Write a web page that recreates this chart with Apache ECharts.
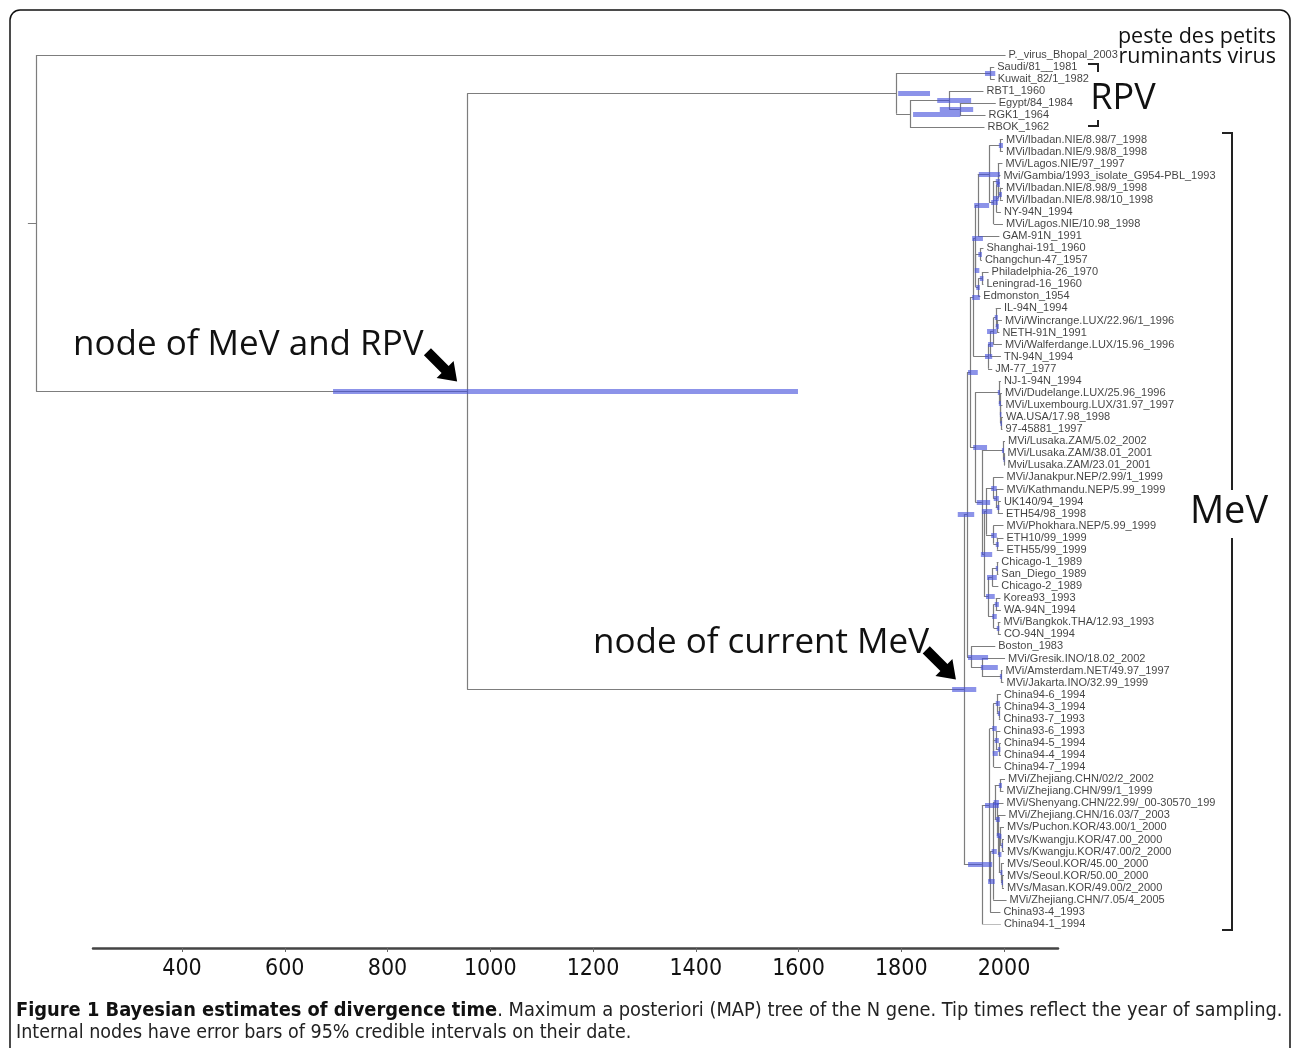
<!DOCTYPE html>
<html>
<head>
<meta charset="utf-8">
<script src="https://cdn.jsdelivr.net/npm/echarts@6/dist/echarts.min.js"></script>
<style>
  html, body { margin: 0; padding: 0; background: #fff; }
  #chart { width: 1293px; height: 1048px; }
</style>
</head>
<body>
<div id="chart"></div>
<script>
// tips, top to bottom
const tipNames = [
  'P._virus_Bhopal_2003', 'Saudi/81__1981', 'Kuwait_82/1_1982', 'RBT1_1960', 'Egypt/84_1984', 'RGK1_1964', 'RBOK_1962',
  'MVi/Ibadan.NIE/8.98/7_1998', 'MVi/Ibadan.NIE/9.98/8_1998', 'MVi/Lagos.NIE/97_1997', 'Mvi/Gambia/1993_isolate_G954-PBL_1993',
  'MVi/Ibadan.NIE/8.98/9_1998', 'MVi/Ibadan.NIE/8.98/10_1998', 'NY-94N_1994', 'MVi/Lagos.NIE/10.98_1998', 'GAM-91N_1991',
  'Shanghai-191_1960', 'Changchun-47_1957', 'Philadelphia-26_1970', 'Leningrad-16_1960', 'Edmonston_1954',
  'IL-94N_1994', 'MVi/Wincrange.LUX/22.96/1_1996', 'NETH-91N_1991', 'MVi/Walferdange.LUX/15.96_1996', 'TN-94N_1994', 'JM-77_1977',
  'NJ-1-94N_1994', 'MVi/Dudelange.LUX/25.96_1996', 'MVi/Luxembourg.LUX/31.97_1997', 'WA.USA/17.98_1998', '97-45881_1997',
  'MVi/Lusaka.ZAM/5.02_2002', 'MVi/Lusaka.ZAM/38.01_2001', 'Mvi/Lusaka.ZAM/23.01_2001',
  'MVi/Janakpur.NEP/2.99/1_1999', 'MVi/Kathmandu.NEP/5.99_1999', 'UK140/94_1994', 'ETH54/98_1998',
  'MVi/Phokhara.NEP/5.99_1999', 'ETH10/99_1999', 'ETH55/99_1999',
  'Chicago-1_1989', 'San_Diego_1989', 'Chicago-2_1989', 'Korea93_1993', 'WA-94N_1994', 'MVi/Bangkok.THA/12.93_1993', 'CO-94N_1994',
  'Boston_1983', 'MVi/Gresik.INO/18.02_2002', 'MVi/Amsterdam.NET/49.97_1997', 'MVi/Jakarta.INO/32.99_1999',
  'China94-6_1994', 'China94-3_1994', 'China93-7_1993', 'China93-6_1993', 'China94-5_1994', 'China94-4_1994', 'China94-7_1994',
  'MVi/Zhejiang.CHN/02/2_2002', 'MVi/Zhejiang.CHN/99/1_1999', 'MVi/Shenyang.CHN/22.99/_00-30570_1999', 'MVi/Zhejiang.CHN/16.03/7_2003',
  'MVs/Puchon.KOR/43.00/1_2000', 'MVs/Kwangju.KOR/47.00_2000', 'MVs/Kwangju.KOR/47.00/2_2000', 'MVs/Seoul.KOR/45.00_2000',
  'MVs/Seoul.KOR/50.00_2000', 'MVs/Masan.KOR/49.00/2_2000', 'MVi/Zhejiang.CHN/7.05/4_2005', 'China93-4_1993', 'China94-1_1994'
];
const tipYears = [
  2003, 1981, 1982, 1960, 1984, 1964, 1962,
  1998, 1998, 1997, 1993, 1998, 1998, 1994, 1998, 1991,
  1960, 1957, 1970, 1960, 1954,
  1994, 1996, 1991, 1996, 1994, 1977,
  1994, 1996, 1997, 1998, 1997,
  2002, 2001, 2001,
  1999, 1999, 1994, 1998,
  1999, 1999, 1999,
  1989, 1989, 1989, 1993, 1994, 1993, 1994,
  1983, 2002, 1997, 1999,
  1994, 1994, 1993, 1993, 1994, 1994, 1994,
  2002, 1999, 1999, 2003,
  2000, 2000, 2000, 2000,
  2000, 2000, 2005, 1993, 1994
];

// internal nodes: id, children (number = tip index), date, 95% interval
const nodeIds = ['root', 'MR', 'RPV', 'SK', 'REGB', 'X', 'EG', 'MeV', 'N1', 'N2', 'K', 'F', 'D', 'B', 'Ib78', 'C', 'C1', 'C2', 'C2a', 'C3',
  'E', 'SC', 'E2', 'PL', 'J', 'I4', 'I3', 'I2', 'WN', 'N4', 'P1', 'P1a', 'P1b', 'P1c', 'R', 'L', 'L1', 'S', 'T', 'T1', 'T1b', 'T1a',
  'T2', 'E1055', 'U', 'U1', 'CS', 'U2', 'KW', 'BC', 'NB', 'G', 'AmJak', 'Ch', 'Ch1', 'Ch2', 'Ch2a', 'C943', 'Ch2c', 'Ch2b', 'C945',
  'Ch3', 'Z5', 'Z4', 'Z1', 'Z3', 'Z2', 'K1', 'K1d', 'K1c', 'K1b', 'K1a'];
const nodeKids = [[0, 'MR'], ['RPV', 'MeV'], ['SK', 'REGB'], [1, 2], ['X', 6], [3, 'EG'], [4, 5], ['N1', 'Ch'], ['N2', 'NB'], ['K', 'N4'],
  ['F', 'J'], ['D', 'E'], ['B', 15], ['Ib78', 'C'], [7, 8], ['C1', 14], [9, 'C2'], ['C2a', 13], [10, 'C3'], [11, 12],
  ['SC', 'E2'], [16, 17], ['PL', 20], [18, 19], ['I4', 26], ['I3', 25], ['I2', 24], [21, 'WN'], [22, 23], ['P1', 'R'],
  [27, 'P1a'], [28, 'P1b'], [29, 'P1c'], [30, 31], ['L', 'S'], [32, 'L1'], [33, 34], ['T', 'U'], ['T1', 'T2'], [35, 'T1b'],
  [36, 'T1a'], [37, 38], [39, 'E1055'], [40, 41], ['U1', 'U2'], ['CS', 44], [42, 43], ['KW', 'BC'], [45, 46], [47, 48],
  [49, 'G'], [50, 'AmJak'], [51, 52], ['Ch1', 72], ['Ch2', 'Ch3'], ['Ch2a', 'Ch2c'], [53, 'C943'], [54, 55], ['Ch2b', 59],
  [56, 'C945'], [57, 58], ['Z5', 71], ['Z4', 70], ['Z1', 'Z3'], [60, 61], [62, 'Z2'], [63, 'K1'], ['K1d', 'K1b'], [64, 'K1c'],
  [65, 66], [67, 'K1a'], [68, 69]];
const nodeYears = [116, 955, 1790, 1973, 1817, 1893, 1914, 1922, 1928, 1934, 1940, 1944, 1949, 1971, 1992, 1980, 1988, 1985, 1989, 1992,
  1945, 1954, 1950, 1957, 1969, 1973, 1980, 1984, 1986, 1944, 1990, 1992, 1993, 1994, 1957, 1998, 2000, 1961, 1965, 1979, 1984, 1988,
  1979, 1986, 1969, 1977, 1986, 1980, 1984, 1988, 1936, 1957, 1994, 1957, 1972, 1979, 1986, 1990, 1980, 1984, 1990,
  1973, 1979, 1982, 1992, 1986, 1988, 1990, 1992, 1996, 1994, 1996];
const hpdLow = [null, 694, 1794, 1963, 1823, 1870, 1875, 1899, 1910, 1930, 1938, 1938, 1942, 1951, 1990, 1975, 1984, 1979, 1986, 1990,
  1943, 1950, 1946, 1953, 1963, 1969, 1967, 1982, 1984, 1940, 1988, 1990, 1992, 1993, 1947, 1996, 1999, 1955, 1957, 1975, 1980, 1986,
  1975, 1984, 1965, 1967, 1984, 1977, 1982, 1986, 1930, 1955, 1992, 1930, 1963, 1977, 1984, 1988, 1978, 1982, 1988,
  1969, 1976, 1980, 1990, 1984, 1986, 1989, 1991, 1995, 1993, 1995];
const hpdHigh = [null, 1599, 1856, 1983, 1915, 1936, 1940, 1946, 1942, 1949, 1953, 1959, 1971, 1992, 1998, 1988, 1992, 1990, 1992, 1996,
  1952, 1957, 1953, 1960, 1977, 1979, 1986, 1988, 1990, 1967, 1992, 1994, 1995, 1996, 1973, 2000, 2001, 1977, 1977, 1986, 1990, 1991,
  1986, 1990, 1982, 1986, 1988, 1986, 1990, 1991, 1969, 1988, 1996, 1977, 1990, 1986, 1992, 1992, 1988, 1990, 1993,
  1982, 1986, 1990, 1996, 1992, 1993, 1995, 1995, 1998, 1997, 1998];
const rootStubYear = 100;
const axisYears = [400, 600, 800, 1000, 1200, 1400, 1600, 1800, 2000];

// ---- build tree geometry from the data ----
const idx = {};
nodeIds.forEach((id, i) => { idx[id] = i; });
const yCache = {};
function yOf(c) {
  if (typeof c === 'number') return c;
  if (yCache[c] != null) return yCache[c];
  const k = nodeKids[idx[c]];
  yCache[c] = (yOf(k[0]) + yOf(k[k.length - 1])) / 2;
  return yCache[c];
}
function xOf(c) {
  return typeof c === 'number' ? tipYears[c] : nodeYears[idx[c]];
}

const branches = [];
const bars = [];
nodeIds.forEach((id, i) => {
  const yr = nodeYears[i];
  const ys = nodeKids[i].map(yOf);
  branches.push({ coords: [[yr, Math.min(...ys)], [yr, Math.max(...ys)]] });
  nodeKids[i].forEach(k => {
    branches.push({ coords: [[yr, yOf(k)], [xOf(k), yOf(k)]] });
  });
  if (hpdLow[i] != null) {
    bars.push({ coords: [[hpdLow[i], yOf(id)], [hpdHigh[i], yOf(id)]] });
  }
});
branches.push({ coords: [[rootStubYear, yOf('root')], [nodeYears[0], yOf('root')]] });

const tips = tipYears.map((yr, i) => [yr, i, tipNames[i]]);

// pixel scale: 400 -> x 182, 2000 -> x 1004
const pxPerYear = 822 / 1600;
const xMin = 400 - 182 / pxPerYear;
const xMax = xMin + 1293 / pxPerYear;

const chart = echarts.init(document.getElementById('chart'));
const capFont = "'Liberation Sans Narrow', 'DejaVu Sans Condensed', 'Open Sans', sans-serif";
const bigFont = "'Open Sans', sans-serif";

chart.setOption({
  animation: false,
  backgroundColor: '#fff',
  grid: [
    { left: 0, width: 1293, top: 55, height: 869 },
    { left: 93, width: 965, top: 900, height: 48 }
  ],
  xAxis: [
    { gridIndex: 0, type: 'value', min: xMin, max: xMax, show: false },
    {
      gridIndex: 1, type: 'value', min: 400 - 89 / pxPerYear, max: 400 - 89 / pxPerYear + 965 / pxPerYear,
      axisLine: { lineStyle: { color: '#444', width: 2.5 } },
      axisTick: { customValues: axisYears, length: 4, lineStyle: { color: '#666' } },
      axisLabel: { customValues: axisYears, formatter: v => String(v), fontSize: 23, fontFamily: capFont, color: '#111', margin: 10 },
      splitLine: { show: false }
    }
  ],
  yAxis: [
    { gridIndex: 0, type: 'value', min: 0, max: 72, inverse: true, show: false },
    { gridIndex: 1, type: 'value', show: false }
  ],
  series: [
    {
      type: 'lines', coordinateSystem: 'cartesian2d', xAxisIndex: 0, yAxisIndex: 0,
      silent: true, data: branches,
      lineStyle: { color: '#7d7d7d', width: 1.2, opacity: 1 }
    },
    {
      type: 'lines', coordinateSystem: 'cartesian2d', xAxisIndex: 0, yAxisIndex: 0,
      silent: true, data: bars,
      lineStyle: { color: 'rgba(70, 80, 220, 0.62)', width: 5, opacity: 1, cap: 'butt' }
    },
    {
      type: 'scatter', xAxisIndex: 0, yAxisIndex: 0, silent: true,
      symbol: 'circle', symbolSize: 2, itemStyle: { color: 'rgba(0,0,0,0)' },
      data: tips,
      label: {
        show: true, position: 'right', distance: 2, offset: [0, 1],
        formatter: p => p.data[2],
        fontSize: 11, fontFamily: "'Liberation Sans', Arial, sans-serif", color: '#111',
        width: 214, overflow: 'truncate', ellipsis: ''
      },
      labelLayout: { hideOverlap: false }
    }
  ]
});

// annotations
function arrowPts(tx, ty) {
  const s = Math.SQRT1_2;
  const local = [[0, 0], [-17, 12], [-17, 5], [-42, 5], [-42, -5], [-17, -5], [-17, -12]];
  return local.map(([a, b]) => [tx + a * s - b * s, ty + a * s + b * s]);
}
const mrPx = chart.convertToPixel({ gridIndex: 0 }, [nodeYears[idx['MR']], yOf('MR')]);
const mevPx = chart.convertToPixel({ gridIndex: 0 }, [nodeYears[idx['MeV']], yOf('MeV')]);
const line = { fill: 'none', stroke: '#222', lineWidth: 2 };

chart.setOption({
  graphic: [
    { type: 'rect', silent: true, shape: { x: 10, y: 10, width: 1280, height: 1100, r: 10 }, style: { fill: 'none', stroke: '#111', lineWidth: 1.5 } },
    { type: 'text', x: 1276, y: 37, style: { text: 'peste des petits', fontSize: 21.5, fontFamily: bigFont, fill: '#111', align: 'right', verticalAlign: 'middle' } },
    { type: 'text', x: 1276, y: 57, style: { text: 'ruminants virus', fontSize: 21.5, fontFamily: bigFont, fill: '#111', align: 'right', verticalAlign: 'middle' } },
    { type: 'text', x: 1123, y: 99, style: { text: 'RPV', fontSize: 36, fontFamily: bigFont, fill: '#111', align: 'center', verticalAlign: 'middle' } },
    { type: 'polyline', silent: true, shape: { points: [[1088, 64], [1098, 64], [1098, 72]] }, style: line },
    { type: 'polyline', silent: true, shape: { points: [[1098, 120], [1098, 126], [1088, 126]] }, style: line },
    { type: 'text', x: 1229, y: 512, style: { text: 'MeV', fontSize: 38, fontFamily: bigFont, fill: '#111', align: 'center', verticalAlign: 'middle' } },
    { type: 'polyline', silent: true, shape: { points: [[1222, 133], [1232, 133], [1232, 490]] }, style: line },
    { type: 'polyline', silent: true, shape: { points: [[1232, 538], [1232, 930], [1222, 930]] }, style: line },
    { type: 'text', x: 73, y: 345, style: { text: 'node of MeV and RPV', fontSize: 35, fontFamily: bigFont, fill: '#111', align: 'left', verticalAlign: 'middle' } },
    { type: 'polygon', silent: true, shape: { points: arrowPts(mrPx[0] - 10, mrPx[1] - 10) }, style: { fill: '#000' } },
    { type: 'text', x: 593, y: 643, style: { text: 'node of current MeV', fontSize: 35, fontFamily: bigFont, fill: '#111', align: 'left', verticalAlign: 'middle' } },
    { type: 'polygon', silent: true, shape: { points: arrowPts(mevPx[0] - 8, mevPx[1] - 10) }, style: { fill: '#000' } },
    {
      type: 'text', x: 16, y: 1011,
      style: {
        text: '{b|Figure 1 Bayesian estimates of divergence time}{n|. Maximum a posteriori (MAP) tree of the N gene. Tip times reflect the year of sampling.}',
        verticalAlign: 'middle',
        rich: {
          b: { fontSize: 19.85, fontWeight: 'bold', fontFamily: capFont, fill: '#111' },
          n: { fontSize: 19.85, fontFamily: capFont, fill: '#222' }
        }
      }
    },
    { type: 'text', x: 16, y: 1033, style: { text: 'Internal nodes have error bars of 95% credible intervals on their date.', fontSize: 19.5, fontFamily: capFont, fill: '#222', verticalAlign: 'middle' } }
  ]
});
</script>
</body>
</html>
